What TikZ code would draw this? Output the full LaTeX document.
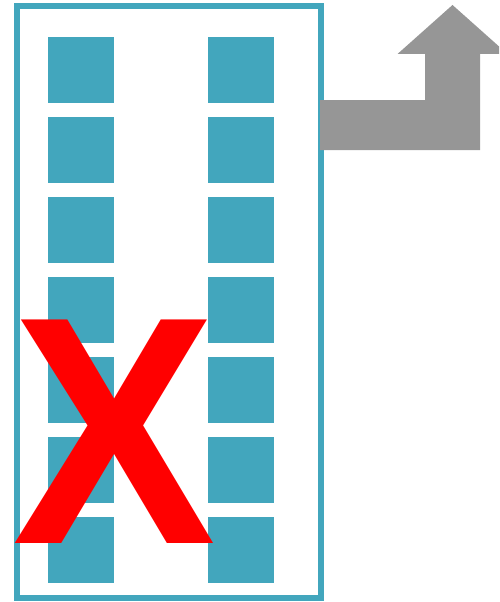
\documentclass[tikz,border=0pt]{standalone}
\usepackage{fontspec}
\usepackage{graphicx}
\newfontfamily\xfont{Liberation Sans}
\definecolor{teal}{HTML}{42A6BD}
\definecolor{arrowgray}{HTML}{969696}
\begin{document}
\begin{tikzpicture}[x=1pt,y=-1pt,
  seat/.style={fill=teal,draw=none,minimum size=66pt,inner sep=0pt,outer sep=0pt,anchor=north west},
  frame/.style={draw=teal,line width=6pt},
  bigarrow/.style={fill=arrowgray,draw=none},
  cross/.style={text=red,inner sep=0pt,outer sep=0pt,font=\xfont\bfseries\fontsize{325}{325}\selectfont}]
\useasboundingbox (0,0) rectangle (499,602);
\clip (0,0) rectangle (499,602);
\foreach \i in {0,...,6}{
  \node[seat] (l\i) at (48,{37+80*\i}) {};
  \node[seat] (r\i) at (208,{37+80*\i}) {};
}
\draw[frame] (17,6) rectangle (321,598);
\fill[bigarrow] (320,100) -- (425,100) -- (425,54) -- (397.5,54) -- (452.5,5) -- (507.5,54) -- (480,54) -- (480,150) -- (320,150) -- cycle;
\node[cross,anchor=base] (x) at (114,543) {\scalebox{0.94}[1]{X}};
\end{tikzpicture}
\end{document}
